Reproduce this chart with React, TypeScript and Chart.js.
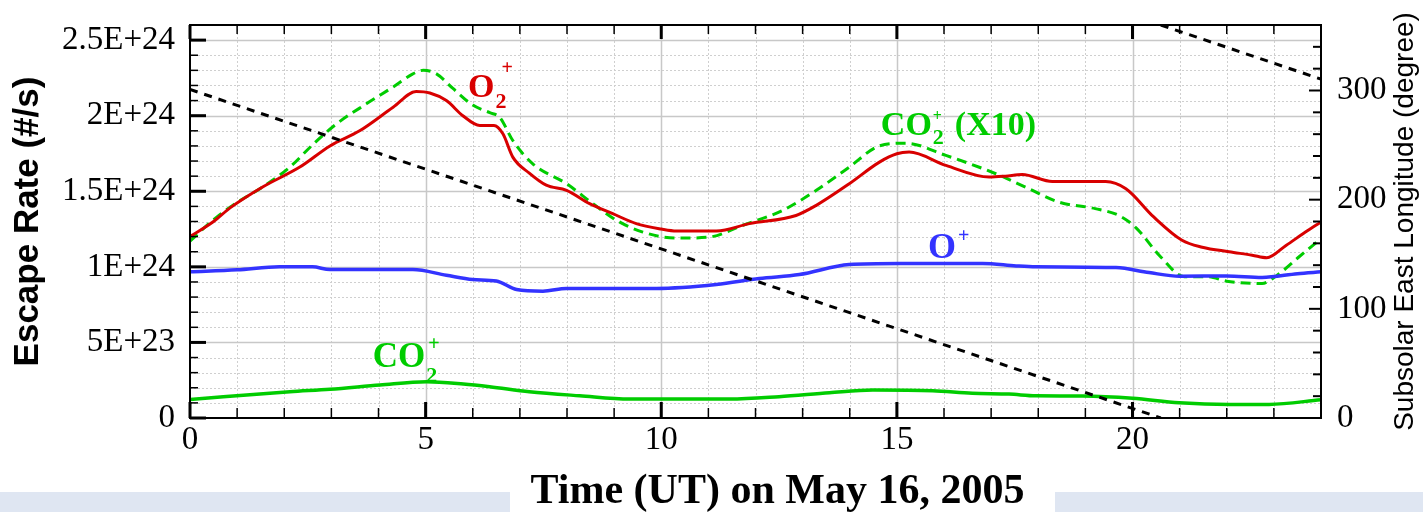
import React, { useEffect, useRef } from 'react';
import { Chart, registerables } from 'chart.js';

Chart.register(...registerables);

// ---------- axes ----------
const TIME_MIN = 0;
const TIME_MAX = 24;
const TIME_TICKS = [0, 5, 10, 15, 20];
const TIME_MINOR_STEP = 1;

const RATE_MAX = 2.6; // in units of 1E24 #/s
const RATE_TICKS = [0, 0.5, 1, 1.5, 2, 2.5];
const RATE_MINOR_STEP = 0.1;

const LON_MAX = 360;
const LON_TICKS = [0, 100, 200, 300];
const LON_MINOR_STEP = 20;

// ---------- series (escape rates in units of 1E24 #/s) ----------
const O2_TIME = [0, 0.5, 0.85, 1.55, 2.33, 2.97, 3.6, 4.31, 4.8, 5.09, 5.44, 5.79, 6.15, 6.45, 6.64, 6.85, 7.2, 7.56, 7.99, 8.48, 8.97, 9.47, 10.0, 10.32, 11.17, 11.87, 12.86, 13.29, 13.99, 14.63, 15.0, 15.26, 16.04, 16.96, 17.3, 17.66, 18.3, 19.43, 19.86, 20.45, 21.05, 21.48, 22.05, 22.54, 22.85, 23.25, 23.67, 24];
const O2_RATE = [1.2, 1.3, 1.39, 1.53, 1.66, 1.8, 1.9, 2.056, 2.16, 2.15, 2.1, 2.0, 1.935, 1.935, 1.88, 1.726, 1.62, 1.54, 1.506, 1.418, 1.352, 1.286, 1.25, 1.237, 1.237, 1.286, 1.34, 1.407, 1.55, 1.693, 1.748, 1.759, 1.671, 1.594, 1.6, 1.611, 1.565, 1.565, 1.517, 1.33, 1.176, 1.13, 1.1, 1.077, 1.06, 1.14, 1.23, 1.297];

const CO2X10_TIME = [0, 0.49, 0.92, 1.55, 2.12, 2.61, 3.11, 3.75, 4.31, 4.73, 4.95, 5.23, 5.58, 6.0, 6.36, 6.57, 6.85, 7.28, 7.99, 8.55, 9.05, 9.61, 10.32, 11.02, 11.73, 12.58, 13.29, 13.99, 14.63, 15.19, 16.04, 17.1, 17.8, 18.43, 19.21, 19.71, 20.07, 20.6, 21.1, 21.6, 22.0, 22.75, 23.05, 23.53, 24];
const CO2X10_RATE = [1.17, 1.31, 1.41, 1.53, 1.66, 1.81, 1.946, 2.08, 2.19, 2.277, 2.3, 2.277, 2.18, 2.07, 2.02, 1.99, 1.836, 1.68, 1.55, 1.418, 1.308, 1.23, 1.19, 1.197, 1.275, 1.374, 1.506, 1.66, 1.8, 1.818, 1.737, 1.616, 1.517, 1.429, 1.385, 1.34, 1.26, 1.065, 0.935, 0.935, 0.905, 0.89, 0.94, 1.065, 1.187];

const OP_TIME = [0, 1.0, 1.9, 2.6, 2.97, 4.73, 5.44, 6.0, 6.5, 6.93, 7.49, 7.99, 9.89, 11.17, 12.08, 12.93, 13.99, 15.05, 16.82, 17.53, 17.95, 19.65, 20.35, 21.0, 22.0, 22.75, 23.5, 24];
const OP_RATE = [0.967, 0.98, 1.0, 1.0, 0.982, 0.982, 0.944, 0.916, 0.907, 0.85, 0.839, 0.857, 0.857, 0.883, 0.923, 0.949, 1.015, 1.022, 1.022, 1.006, 1.0, 0.995, 0.962, 0.938, 0.94, 0.93, 0.955, 0.967];

const CO2_TIME = [0, 2.12, 2.97, 4.03, 5.02, 5.8, 6.36, 7.2, 8.27, 9.33, 11.45, 12.5, 13.57, 14.49, 15.76, 16.6, 17.38, 17.95, 18.94, 20.0, 20.99, 22.05, 22.9, 24];
const CO2_RATE = [0.123, 0.174, 0.19, 0.218, 0.24, 0.225, 0.207, 0.174, 0.147, 0.125, 0.125, 0.141, 0.167, 0.185, 0.18, 0.163, 0.158, 0.147, 0.145, 0.13, 0.101, 0.09, 0.09, 0.121];

// subsolar east longitude (degree), wraps from 0 to 360
const LON_TIME = [0, 20.6, 20.6, 20.6, 24];
const LON_DEG = [301, 0, null, 360, 310.4];

// ---------- styles ----------
const RED = '#d80000';
const GREEN = '#00cc00';
const BLUE = '#3333ff';
const SERIF = '"Liberation Serif", "Times New Roman", serif';
const SANS = '"Liberation Sans", Arial, sans-serif';

// in-plot ion labels anchored in data coordinates (time, rate)
const ION_LABELS = [
  { t: 5.9, v: 2.124, color: RED, main: 'O', sub: '2', sup: '+', tail: '', size: 34, subDy: 11, supDx: 7, supDy: -23, supSize: 20, tailGap: 0 },
  { t: 14.66, v: 1.872, color: GREEN, main: 'CO', sub: '2', sup: '+', tail: '(X10)', size: 34, subDy: 9, supDx: 1, supDy: -14, supSize: 16, tailGap: 11 },
  { t: 15.66, v: 1.057, color: BLUE, main: 'O', sub: '', sup: '+', tail: '', size: 36, subDy: 0, supDx: 2, supDy: -16, supSize: 20, tailGap: 0 },
  { t: 3.88, v: 0.339, color: GREEN, main: 'CO', sub: '2', sup: '+', tail: '', size: 35, subDy: 15, supDx: 3, supDy: -17, supSize: 20, tailGap: 0 },
];

const toXY = (ts: number[], vs: (number | null)[]) => ts.map((t, i) => ({ x: t, y: vs[i] }));

const fmtRate = (v: number) => {
  if (v === 0) return '0';
  if (v >= 1) return `${v}E+24`;
  return `${Math.round(v * 10)}E+23`;
};

const near = (arr: number[], v: number) => arr.some((a) => Math.abs(a - v) < 1e-9);

function drawIon(ctx: any, x0: number, yb: number, L: any) {
  ctx.fillStyle = L.color;
  ctx.textAlign = 'left';
  ctx.textBaseline = 'alphabetic';
  ctx.font = `bold ${L.size}px ${SERIF}`;
  ctx.fillText(L.main, x0, yb);
  let x = x0 + ctx.measureText(L.main).width;
  let w = 0;
  if (L.sub) {
    ctx.font = `bold 22px ${SERIF}`;
    ctx.fillText(L.sub, x + 1, yb + L.subDy);
    w = Math.max(w, ctx.measureText(L.sub).width + 1);
  }
  if (L.sup) {
    ctx.font = `bold ${L.supSize}px ${SERIF}`;
    ctx.fillText(L.sup, x + L.supDx, yb + L.supDy);
    w = Math.max(w, ctx.measureText(L.sup).width + L.supDx);
  }
  x += w;
  if (L.tail) {
    ctx.font = `bold ${L.size}px ${SERIF}`;
    ctx.fillText(L.tail, x + L.tailGap, yb);
  }
}

function seg(ctx: any, x1: number, y1: number, x2: number, y2: number) {
  ctx.beginPath();
  ctx.moveTo(x1, y1);
  ctx.lineTo(x2, y2);
  ctx.stroke();
}

const decorPlugin = {
  id: 'decor',
  beforeDatasetsDraw(chart: any) {
    const { ctx, chartArea: a, scales } = chart;
    const xs = scales.x;
    const ys = scales.y;
    ctx.save();
    const nT = Math.round((TIME_MAX - TIME_MIN) / TIME_MINOR_STEP);
    for (let i = 1; i < nT; i++) {
      const t = TIME_MIN + i * TIME_MINOR_STEP;
      const px = Math.round(xs.getPixelForValue(t)) + 0.5;
      if (near(TIME_TICKS, t)) {
        ctx.strokeStyle = '#c8c8c8'; ctx.lineWidth = 1.5; ctx.setLineDash([]);
      } else {
        ctx.strokeStyle = '#cfcfcf'; ctx.lineWidth = 1; ctx.setLineDash([2, 2]);
      }
      seg(ctx, px, a.top, px, a.bottom);
    }
    const nR = Math.round(RATE_MAX / RATE_MINOR_STEP);
    for (let i = 1; i < nR; i++) {
      const v = i * RATE_MINOR_STEP;
      const py = Math.round(ys.getPixelForValue(v)) + 0.5;
      if (near(RATE_TICKS, v)) {
        ctx.strokeStyle = '#c8c8c8'; ctx.lineWidth = 1.5; ctx.setLineDash([]);
      } else {
        ctx.strokeStyle = '#cfcfcf'; ctx.lineWidth = 1; ctx.setLineDash([2, 2]);
      }
      seg(ctx, a.left, py, a.right, py);
    }
    ctx.restore();
  },
  afterDatasetsDraw(chart: any) {
    const { ctx, chartArea: a, scales } = chart;
    const xs = scales.x;
    const ys = scales.y;
    const y2 = scales.y2;
    ctx.save();
    ctx.strokeStyle = '#000';
    ctx.setLineDash([]);
    // frame
    ctx.lineWidth = 2;
    ctx.strokeRect(a.left, a.top, a.right - a.left, a.bottom - a.top);
    // bottom & top ticks
    const nT = Math.round((TIME_MAX - TIME_MIN) / TIME_MINOR_STEP);
    for (let i = 0; i <= nT; i++) {
      const t = TIME_MIN + i * TIME_MINOR_STEP;
      const px = xs.getPixelForValue(t);
      const major = near(TIME_TICKS, t);
      ctx.lineWidth = major ? 3 : 1.5;
      seg(ctx, px, a.bottom, px, a.bottom - (major ? 16 : 10));
      seg(ctx, px, a.top, px, a.top + (major ? 14 : 9));
    }
    // left ticks
    const nR = Math.round(RATE_MAX / RATE_MINOR_STEP);
    for (let i = 0; i <= nR; i++) {
      const v = i * RATE_MINOR_STEP;
      const py = ys.getPixelForValue(v);
      const major = near(RATE_TICKS, v);
      ctx.lineWidth = major ? 3 : 1.5;
      seg(ctx, a.left, py, a.left + (major ? 16 : 8), py);
    }
    // right ticks
    const nL = Math.round(LON_MAX / LON_MINOR_STEP);
    for (let i = 0; i <= nL; i++) {
      const d = i * LON_MINOR_STEP;
      const py = y2.getPixelForValue(d);
      const major = near(LON_TICKS, d);
      ctx.lineWidth = 2;
      seg(ctx, a.right, py, a.right - (major ? 12 : 8), py);
    }
    // ion labels
    ION_LABELS.forEach((L) => {
      drawIon(ctx, xs.getPixelForValue(L.t), ys.getPixelForValue(L.v), L);
    });
    ctx.restore();
  },
  afterDraw(chart: any) {
    const { ctx, chartArea: a } = chart;
    ctx.save();
    // right axis title (reads bottom to top)
    ctx.translate(a.right + 84, (a.top + a.bottom) / 2);
    ctx.rotate(-Math.PI / 2);
    ctx.fillStyle = '#000';
    ctx.textAlign = 'center';
    ctx.textBaseline = 'middle';
    ctx.font = `28px ${SANS}`;
    ctx.fillText('Subsolar East Longitude (degree)', 0, 0);
    ctx.restore();
    // bottom axis title
    ctx.save();
    ctx.fillStyle = '#000';
    ctx.textAlign = 'center';
    ctx.textBaseline = 'alphabetic';
    ctx.font = `bold 42px ${SERIF}`;
    ctx.fillText('Time (UT) on May 16, 2005', (a.left + a.right) / 2 + 22, a.bottom + 85);
    ctx.restore();
  },
};

const fitVertical = (w: number) => (s: any) => {
  s.width = w;
  s.paddingTop = 0;
  s.paddingBottom = 0;
};

export default function App() {
  const ref = useRef<HTMLCanvasElement | null>(null);
  useEffect(() => {
    if (!ref.current) return;
    const chart = new Chart(ref.current, {
      type: 'line',
      data: {
        datasets: [
          { label: 'Subsolar East Longitude', data: toXY(LON_TIME, LON_DEG), yAxisID: 'y2', borderColor: '#000', borderWidth: 3, borderDash: [8, 7], pointRadius: 0, tension: 0, spanGaps: false },
          { label: 'O2+', data: toXY(O2_TIME, O2_RATE), yAxisID: 'y', borderColor: RED, borderWidth: 3, pointRadius: 0, cubicInterpolationMode: 'monotone' },
          { label: 'O+', data: toXY(OP_TIME, OP_RATE), yAxisID: 'y', borderColor: BLUE, borderWidth: 3.5, pointRadius: 0, cubicInterpolationMode: 'monotone' },
          { label: 'CO2+ (X10)', data: toXY(CO2X10_TIME, CO2X10_RATE), yAxisID: 'y', borderColor: GREEN, borderWidth: 3, borderDash: [10, 6], pointRadius: 0, cubicInterpolationMode: 'monotone' },
          { label: 'CO2+', data: toXY(CO2_TIME, CO2_RATE), yAxisID: 'y', borderColor: GREEN, borderWidth: 3.5, pointRadius: 0, cubicInterpolationMode: 'monotone' },
        ],
      } as any,
      options: {
        responsive: false,
        animation: false,
        devicePixelRatio: 1,
        events: [],
        layout: { padding: { top: 25, left: 0, right: 0, bottom: 0 } },
        plugins: { legend: { display: false }, tooltip: { enabled: false }, title: { display: false } },
        scales: {
          x: {
            type: 'linear', position: 'bottom', min: TIME_MIN, max: TIME_MAX,
            grid: { display: false, drawTicks: false }, border: { display: false },
            afterBuildTicks: (s: any) => { s.ticks = TIME_TICKS.map((v) => ({ value: v })); },
            afterFit: (s: any) => { s.height = 94; s.paddingLeft = 0; s.paddingRight = 0; },
            ticks: { font: { family: SERIF, size: 33 }, color: '#000', padding: 3, maxRotation: 0, autoSkip: false, callback: (v: any) => String(v) },
          },
          y: {
            type: 'linear', position: 'left', min: 0, max: RATE_MAX,
            grid: { display: false, drawTicks: false }, border: { display: false },
            afterBuildTicks: (s: any) => { s.ticks = RATE_TICKS.map((v) => ({ value: v })); },
            afterFit: fitVertical(190),
            ticks: { font: { family: SERIF, size: 33 }, color: '#000', padding: 15, autoSkip: false, callback: (v: any) => fmtRate(Number(v)) },
            title: { display: true, text: 'Escape Rate (#/s)', color: '#000', font: { family: SANS, size: 35, weight: 'bold' }, padding: { top: 7, bottom: 0 } },
          },
          y2: {
            type: 'linear', position: 'right', min: 0, max: LON_MAX,
            grid: { display: false, drawTicks: false }, border: { display: false },
            afterBuildTicks: (s: any) => { s.ticks = LON_TICKS.map((v) => ({ value: v })); },
            afterFit: fitVertical(102),
            ticks: { font: { family: SERIF, size: 33 }, color: '#000', padding: 16, autoSkip: false, callback: (v: any) => String(v) },
          },
        },
      } as any,
      plugins: [decorPlugin],
    });
    return () => chart.destroy();
  }, []);

  return (
    <div style={{ position: 'fixed', left: 0, top: 0, width: 1423, height: 512, background: '#fff', overflow: 'hidden' }}>
      <div style={{ position: 'absolute', left: 0, top: 492, width: 1423, height: 20, background: '#dfe6f2' }} />
      <div style={{ position: 'absolute', left: 510, top: 492, width: 545, height: 20, background: '#fff' }} />
      <canvas ref={ref} width={1423} height={512} style={{ position: 'absolute', left: 0, top: 0 }} />
    </div>
  );
}
